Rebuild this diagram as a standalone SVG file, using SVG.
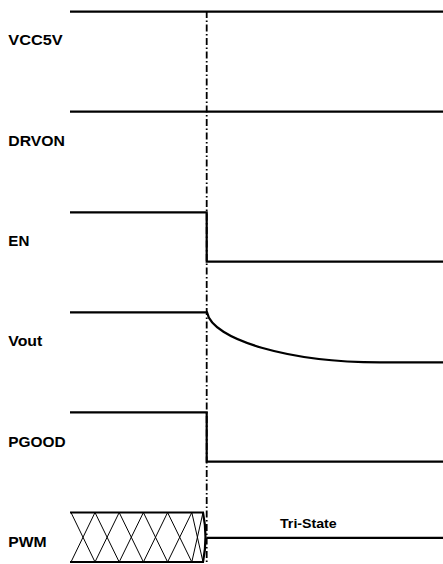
<svg xmlns="http://www.w3.org/2000/svg" width="443" height="564" viewBox="0 0 443 564">
<style>
.lbl{font-family:"Liberation Sans",Arial,Helvetica,sans-serif;font-weight:bold;font-size:14px;fill:#000}
.sm{font-size:12.5px}
.w{fill:none;stroke:#000;stroke-width:2.2;stroke-linejoin:miter}
.x{fill:none;stroke:#000;stroke-width:1}
.ref{fill:none;stroke:#000;stroke-width:1.8;stroke-dasharray:7 2.5 1.5 2.5}
</style>
<rect width="443" height="564" fill="#fff"/>
<g id="vcc5v">
<text class="lbl" x="8.3" y="45" textLength="54.4" lengthAdjust="spacingAndGlyphs">VCC5V</text>
<path class="w" d="M70,11.7H443"/>
</g>
<g id="drvon">
<text class="lbl" x="8.3" y="146" textLength="56.7" lengthAdjust="spacingAndGlyphs">DRVON</text>
<path class="w" d="M70,111.7H443"/>
</g>
<g id="en">
<text class="lbl" x="8.3" y="246" textLength="21" lengthAdjust="spacingAndGlyphs">EN</text>
<path class="w" d="M70,212.3H206.7V261.7H443"/>
</g>
<g id="vout">
<text class="lbl" x="8.3" y="346" textLength="34" lengthAdjust="spacingAndGlyphs">Vout</text>
<path class="w" d="M70,312.3H207C212,340 290,362.3 380,362.3L443,362.3"/>
</g>
<g id="pgood">
<text class="lbl" x="8.3" y="447.3" textLength="57.4" lengthAdjust="spacingAndGlyphs">PGOOD</text>
<path class="w" d="M70,412.3H206.7V461.7H443"/>
</g>
<g id="pwm">
<text class="lbl" x="8.3" y="547.3" textLength="38.4" lengthAdjust="spacingAndGlyphs">PWM</text>
<path class="w" d="M70,512.5H203Q208,537 203,562H70"/>
<path class="x" d="M71,512.5L95,562M71,562L95,512.5M95,512.5L119.2,562M95,562L119.2,512.5M119.2,512.5L143.4,562M119.2,562L143.4,512.5M143.4,512.5L167.6,562M143.4,562L167.6,512.5M167.6,512.5L191.8,562M167.6,562L191.8,512.5M191.8,512.5L203,562M191.8,562L203,512.5"/>
<path class="w" d="M206.7,537.8H443"/>
<text class="lbl sm" x="280" y="528.3" textLength="56.7" lengthAdjust="spacingAndGlyphs">Tri-State</text>
</g>
<g id="connectors">
<path class="ref" d="M206.7,11V564"/>
</g>
</svg>
